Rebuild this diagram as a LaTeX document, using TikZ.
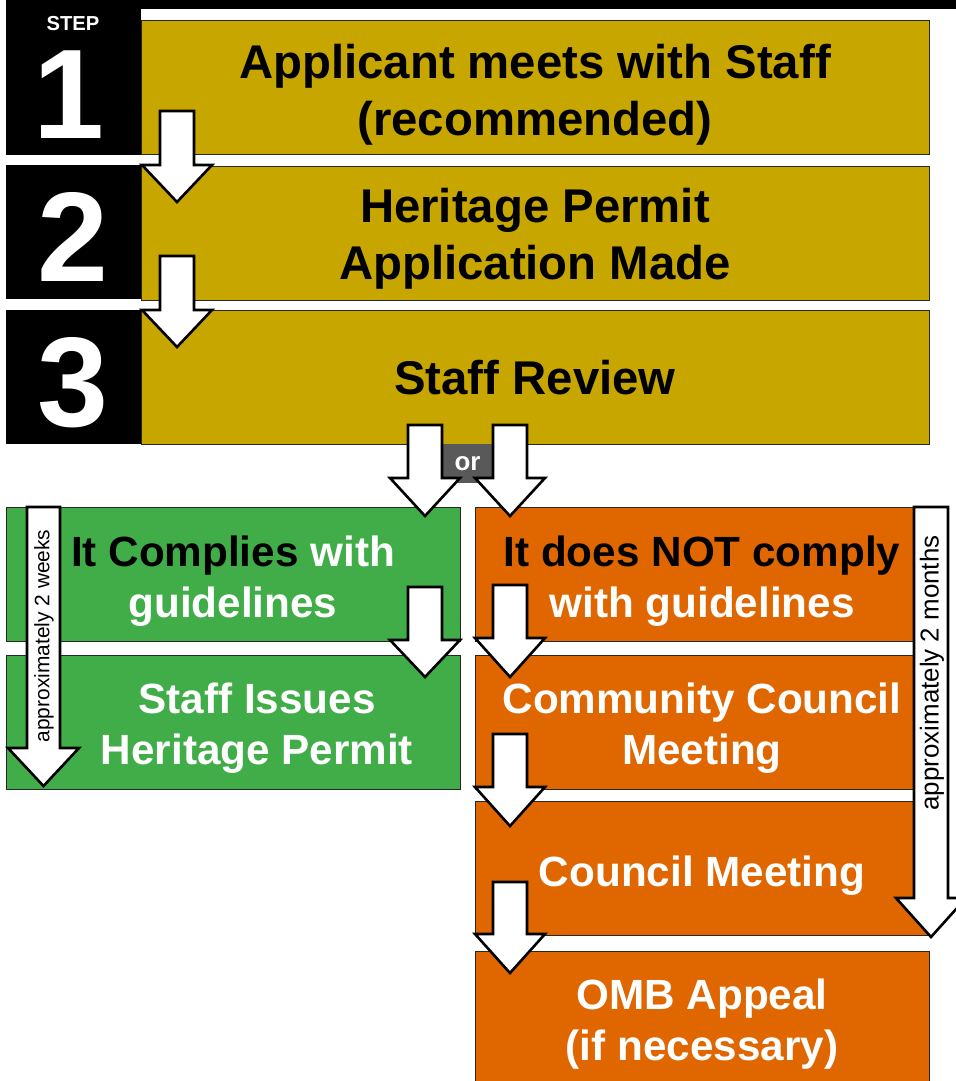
\documentclass[tikz,border=0pt]{standalone}
\usepackage{fontspec}
\setmainfont{Liberation Sans}
\definecolor{gold}{RGB}{200,166,0}
\definecolor{grn}{RGB}{65,173,73}
\definecolor{org}{RGB}{224,102,0}
\definecolor{orgray}{RGB}{89,89,89}
\newcommand\barrow[6]{\draw[arr] ({#1-#5},#2) -- ({#1+#5},#2) -- ({#1+#5},#3) -- ({#1+#6},#3) -- (#1,#4) -- ({#1-#6},#3) -- ({#1-#5},#3) -- cycle;}
\tikzset{
  box/.style={draw=black!85, line width=0.9bp, inner sep=0pt, anchor=north west},
  stepbox/.style={fill=black, inner sep=0pt, anchor=north west, minimum width=135bp},
  ybox/.style={box, fill=gold, minimum width=788bp, minimum height=134bp},
  gbox/.style={box, fill=grn, minimum width=454bp, minimum height=134bp},
  obox/.style={box, fill=org, minimum width=454bp, minimum height=134bp},
  ytxt/.style={align=center, inner sep=0pt, text=black, font=\fontsize{47.5}{57}\selectfont\bfseries},
  wtxt/.style={align=center, inner sep=0pt, text=white, font=\fontsize{42.4}{51}\selectfont\bfseries},
  num/.style={text=white, inner sep=0pt, text height=94bp, text depth=0pt, font=\fontsize{128}{128}\selectfont\bfseries},
  arr/.style={fill=white, draw=black, line width=2.6bp, line join=miter},
  dur/.style={rotate=90, inner sep=0pt, text=black}
}
\begin{document}
\begin{tikzpicture}[x=1bp,y=-1bp]
\clip (0,0) rectangle (956,1081);
\fill[white] (0,0) rectangle (956,1081);
% top bar and step column
\fill[black] (6,0) rectangle (956,9);
\node[stepbox, minimum height=155bp] (s1) at (6,0) {};
\node[stepbox, minimum height=134bp] (s2) at (6,165) {};
\node[stepbox, minimum height=134bp] (s3) at (6,310) {};
\node[text=white, inner sep=0pt, font=\fontsize{20.3}{20}\selectfont\bfseries] (steplbl) at (73,24) {STEP};
\node[num] (n1) at (69,91) {1};
\node[num] (n2) at (73,234) {2};
\node[num] (n3) at (73,379) {3};
% yellow boxes
\node[ybox] (b1) at (141,20) {};
\node[ybox] (b2) at (141,166) {};
\node[ybox] (b3) at (141,310) {};
\node[ytxt] (t1) at (535,95) {Applicant meets with Staff\\(recommended)};
\node[ytxt] (t2) at (535,239) {Heritage Permit\\Application Made};
\node[ytxt] (t3) at (535,378) {Staff Review};
% or label
\node[fill=orgray, minimum width=51bp, minimum height=39bp, inner sep=0pt, text=white, font=\fontsize{26}{26}\selectfont\bfseries] (orl) at (467.5,463.5) {or};
% green boxes
\node[gbox] (g1) at (6,507) {};
\node[gbox] (g2) at (6,655) {};
\node[wtxt] (g1t) at (233,581) {{\color{black}It Complies} with\\guidelines};
\node[wtxt] (g2t) at (257,728) {Staff Issues\\Heritage Permit};
% orange boxes
\node[obox] (o1) at (475,507) {};
\node[obox] (o2) at (475,655) {};
\node[obox] (o3) at (475,801) {};
\node[obox] (o4) at (475,951) {};
\node[wtxt] (o1t) at (702,581) {{\color{black}It does NOT comply}\\with guidelines};
\node[wtxt] (o2t) at (702,728) {Community Council\\Meeting};
\node[wtxt] (o3t) at (702,876) {Council Meeting};
\node[wtxt] (o4t) at (702,1024) {OMB Appeal\\(if necessary)};
% block arrows
\barrow{177}{111}{165}{202}{17}{35}
\barrow{177}{256}{310}{347}{17}{35}
\barrow{425}{425}{478}{516}{17}{35}
\barrow{510}{425}{478}{516}{17}{35}
\barrow{425}{587}{640}{677}{17}{35}
\barrow{510}{585}{638}{677}{17}{35}
\barrow{510}{734}{787}{826}{17}{35}
\barrow{510}{882}{934}{973}{17}{35}
\barrow{43.5}{507}{748}{786}{16.5}{35.5}
\barrow{931}{507}{898}{937}{17}{35}
% duration labels
\node[dur, font=\fontsize{21}{21}\selectfont] (d1) at (44,636) {approximately 2 weeks};
\node[dur, font=\fontsize{26}{26}\selectfont] (d2) at (932,673) {approximately 2 months};
\end{tikzpicture}
\end{document}
